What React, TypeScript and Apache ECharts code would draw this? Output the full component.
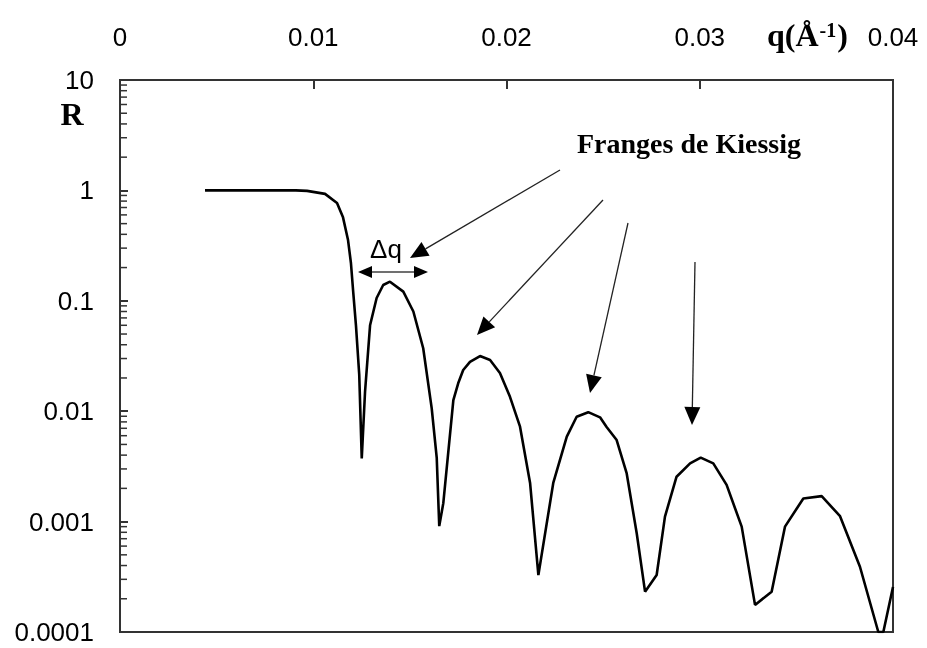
import React, { useEffect, useRef } from "react";
import * as echarts from "echarts";

// Reflectivity curve
const qValues = [
  0.0044, 0.0067, 0.0091, 0.00968, 0.01061, 0.01123, 0.01154, 0.0118, 0.01195, 0.01206,
  0.01221, 0.01238, 0.01251, 0.01268, 0.01294, 0.01328, 0.01362, 0.01397, 0.01466, 0.01518,
  0.01569, 0.01613, 0.01639, 0.01652, 0.01673, 0.01725, 0.0175, 0.01776, 0.01811, 0.01863,
  0.01915, 0.01966, 0.02018, 0.0207, 0.02122, 0.02165, 0.02242, 0.02312, 0.02363, 0.02423,
  0.02484, 0.02518, 0.0257, 0.02622, 0.02674, 0.02717, 0.02777, 0.0282, 0.0288, 0.0295,
  0.03005, 0.0307, 0.03139, 0.03217, 0.03286, 0.03372, 0.03441, 0.03536, 0.03631, 0.03726,
  0.03829, 0.03924, 0.0395, 0.04,
];
const rValues = [
  1.0, 1.0, 1.0, 0.99, 0.93, 0.77, 0.57, 0.355, 0.22, 0.125,
  0.06, 0.0213, 0.00374, 0.015, 0.06, 0.106, 0.139, 0.149, 0.121, 0.08,
  0.0372, 0.0106, 0.00377, 0.00091, 0.00147, 0.0126, 0.0179, 0.0236, 0.028, 0.0316,
  0.0291, 0.0222, 0.0135, 0.00724, 0.00224, 0.000328, 0.00224, 0.00588, 0.0089, 0.0098,
  0.0088, 0.0072, 0.00548, 0.00273, 0.00078, 0.000232, 0.000328, 0.00111, 0.00255, 0.00337,
  0.0038, 0.00337, 0.00215, 0.0009, 0.000176, 0.000232, 0.0009, 0.00162, 0.0017, 0.00112,
  0.00039, 0.0001, 0.0001, 0.000256,
];
const xTickLabels = ["0", "0.01", "0.02", "0.03", "0.04"];
const yTickLabels = ["0.0001", "0.001", "0.01", "0.1", "1", "10"];
const minorMultipliers = [2, 3, 4, 5, 6, 7, 8, 9];
const decades = [0.0001, 0.001, 0.01, 0.1, 1];

function arrow(x1: number, y1: number, x2: number, y2: number, len = 18, half = 8) {
  const dx = x2 - x1, dy = y2 - y1;
  const d = Math.hypot(dx, dy);
  const ux = dx / d, uy = dy / d;
  const bx = x2 - ux * len, by = y2 - uy * len;
  const px = -uy, py = ux;
  return [
    { type: "line", shape: { x1, y1, x2: bx, y2: by }, style: { stroke: "#222", lineWidth: 1.3 } },
    {
      type: "polygon",
      shape: { points: [[x2, y2], [bx + px * half, by + py * half], [bx - px * half, by - py * half]] },
      style: { fill: "#000" },
    },
  ];
}

export default function App() {
  const ref = useRef<HTMLDivElement>(null);
  useEffect(() => {
    if (!ref.current) return;
    const chart = echarts.init(ref.current, null, { renderer: "svg" });
    const data = qValues.map((q, i) => [q, rValues[i]]);
    const minor: number[][] = [];
    decades.forEach((d) => minorMultipliers.forEach((m) => minor.push([0, m * d])));
    const labelFont = { fontSize: 26, color: "#000", fontFamily: "Liberation Sans" };

    const dqY = 272;
    const graphics: any[] = [
      ...arrow(393, dqY, 358, dqY, 14, 6),
      ...arrow(393, dqY, 428, dqY, 14, 6),
      ...arrow(560, 170, 410, 258),
      ...arrow(603, 200, 477, 335),
      ...arrow(628, 223, 590, 393),
      ...arrow(695, 262, 692, 425),
      {
        type: "text",
        x: 386, y: 249,
        style: { text: "Δq", font: "26px 'Liberation Sans'", fill: "#000", align: "center", verticalAlign: "middle" },
      },
      {
        type: "text",
        x: 689, y: 143,
        style: { text: "Franges de Kiessig", font: "bold 28px 'Liberation Serif'", fill: "#000", align: "center", verticalAlign: "middle" },
      },
      {
        type: "text",
        x: 72, y: 114,
        style: { text: "R", font: "bold 32px 'Liberation Serif'", fill: "#000", align: "center", verticalAlign: "middle" },
      },
      {
        type: "text",
        x: 767, y: 35,
        style: {
          text: "{a|q(Å}{b|-1}{a|)}",
          verticalAlign: "middle",
          rich: {
            a: { fontSize: 32, fontWeight: "bold", fontFamily: "Liberation Serif", fill: "#000", lineHeight: 34 },
            b: { fontSize: 20, fontWeight: "bold", fontFamily: "Liberation Serif", fill: "#000", verticalAlign: "top", lineHeight: 20, padding: [2, 1, 0, 1] },
          },
        },
      },
    ];

    chart.setOption({
      animation: false,
      grid: { left: 120, top: 80, right: 34, bottom: 16, show: true, borderColor: "#333", borderWidth: 2 },
      xAxis: {
        type: "value",
        position: "top",
        min: 0,
        max: 0.04,
        interval: 0.01,
        axisLine: { show: true, lineStyle: { color: "#333", width: 2 } },
        axisTick: { show: true, inside: true, length: 9, lineStyle: { color: "#333", width: 2 } },
        splitLine: { show: false },
        axisLabel: { ...labelFont, margin: 30, formatter: (v: number) => xTickLabels[Math.round(v / 0.01)] },
      },
      yAxis: {
        type: "log",
        logBase: 10,
        min: 0.0001,
        max: 10,
        axisLine: { show: true, lineStyle: { color: "#333", width: 2 } },
        axisTick: { show: true, inside: true, length: 8, lineStyle: { color: "#333", width: 2 } },
        splitLine: { show: false },
        axisLabel: {
          ...labelFont,
          margin: 26,
          formatter: (v: number) => yTickLabels[Math.round(Math.log10(v)) + 4],
        },
      },
      series: [
        {
          type: "custom",
          silent: true,
          clip: false,
          data: minor,
          renderItem: (_p: any, api: any) => {
            const pt = api.coord([0, api.value(1)]);
            return {
              type: "line",
              shape: { x1: pt[0], y1: pt[1], x2: pt[0] + 7, y2: pt[1] },
              style: { stroke: "#333", lineWidth: 1.5 },
            };
          },
        },
        {
          type: "line",
          data,
          showSymbol: false,
          symbol: "none",
          lineStyle: { color: "#000", width: 2.6 },
          clip: true,
        },
      ],
      graphic: graphics,
    });
    return () => chart.dispose();
  }, []);
  return <div ref={ref} style={{ position: "fixed", left: 0, top: 0, width: 927, height: 648 }} />;
}
